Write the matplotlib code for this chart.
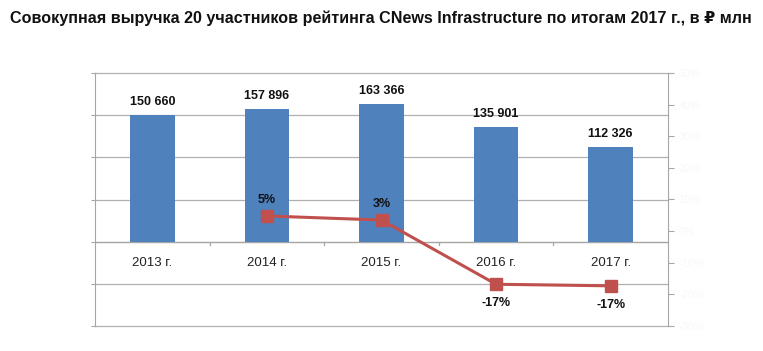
import matplotlib
matplotlib.use("Agg")
import matplotlib.pyplot as plt
import numpy as np

categories = ["2013 г.", "2014 г.", "2015 г.", "2016 г.", "2017 г."]
revenue = [150660, 157896, 163366, 135901, 112326]
growth_years = ["2014 г.", "2015 г.", "2016 г.", "2017 г."]
growth = [0.048, 0.035, -0.168, -0.173]
growth_labels = ["5%", "3%", "-17%", "-17%"]
right_ticks = [-0.3, -0.2, -0.1, 0.0, 0.1, 0.2, 0.3, 0.4, 0.5]

plt.rcParams['font.family'] = ['Liberation Sans', 'DejaVu Sans']

fig = plt.figure(figsize=(7.63, 3.51), dpi=100)
ax = fig.add_axes([95/763, 25/351, (668-95)/763, (326-73)/351])
x = np.arange(len(categories))
ax.bar(x, revenue, width=0.39, color="#4F81BD", zorder=2)
ax.set_xlim(-0.5, len(categories) - 0.5)
ax.set_ylim(-100000, 200000)
ax.set_yticks(np.arange(-100000, 200001, 50000))
ax.set_yticklabels([])
for yv in np.arange(-100000, 200001, 50000):
    ax.axhline(yv, color="#b0b0b0", linewidth=0.9, zorder=0, clip_on=False)
ax.tick_params(axis='y', length=3, color="#a6a6a6")
ax.set_xticks([])
for s in ["top", "right", "bottom"]:
    ax.spines[s].set_visible(False)
ax.spines["left"].set_color("#a6a6a6")

# category axis at zero
ax.axhline(0, color="#a6a6a6", linewidth=0.9, zorder=1)
for b in np.arange(0.5, len(categories) - 0.5, 1.0):
    ax.plot([b, b], [0, -3500], color="#a6a6a6", linewidth=0.9, clip_on=False)
for i, c in enumerate(categories):
    ax.text(i, -25000, c, ha="center", va="center", fontsize=9.5, color="#222222")

for i, v in enumerate(revenue):
    ax.text(i, v + 15000, f"{v:,}".replace(",", " "), ha="center", va="center",
            fontsize=9, fontweight="bold", color="#111111")

ax2 = ax.twinx()
ax2.set_ylim(-0.3, 0.5)
gx = [categories.index(g) for g in growth_years]
ax2.plot(gx, growth, color="#C0504D", linewidth=2.2, marker="s", markersize=8, zorder=3)
for xi, g, lab in zip(gx, growth, growth_labels):
    off = 0.05 if g > 0 else -0.06
    ax2.text(xi, g + off, lab, ha="center", va="center", fontsize=9,
             fontweight="bold", color="#111111")
ax2.set_yticks(right_ticks)
ax2.set_yticklabels([f"{int(round(t*100))}%" for t in right_ticks], color="#f8f8f8", fontsize=8)
ax2.tick_params(axis='y', length=4, color="#a6a6a6")
for s in ["top", "left", "bottom"]:
    ax2.spines[s].set_visible(False)
ax2.spines["right"].set_color("#a6a6a6")

fig.text(381/763, 1 - 18/351, "Совокупная выручка 20 участников рейтинга CNews Infrastructure по итогам 2017 г., в ₽ млн",
         ha="center", va="center", fontsize=11.6, fontweight="bold", color="#111111")

fig.savefig("out.png", dpi=100)
